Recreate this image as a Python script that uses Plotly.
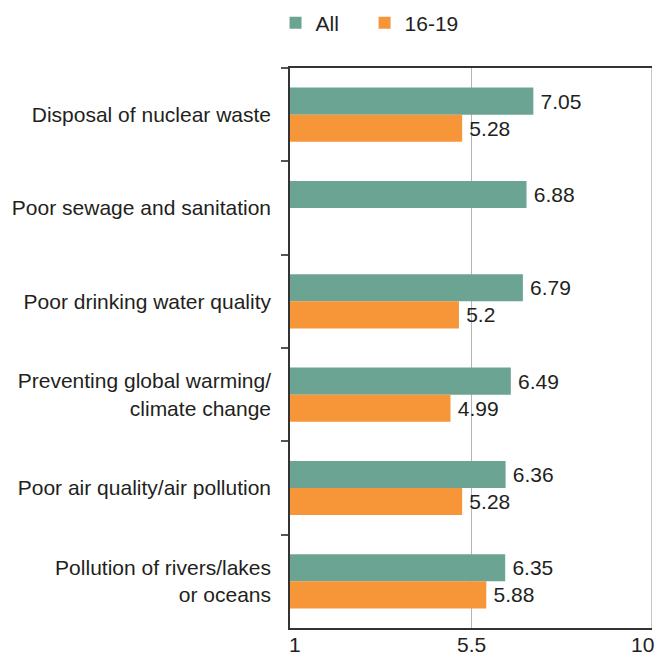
import plotly.graph_objects as go

categories = [
    "Disposal of nuclear waste",
    "Poor sewage and sanitation",
    "Poor drinking water quality",
    "Preventing global warming/<br>climate change",
    "Poor air quality/air pollution",
    "Pollution of rivers/lakes<br>or oceans",
]
all_values = [7.05, 6.88, 6.79, 6.49, 6.36, 6.35]
teen_values = [5.28, None, 5.2, 4.99, 5.28, 5.88]
x_ticks = [1, 5.5, 10]
x_tick_labels = ["1", "5.5", "10"]

TEAL = "#6ca494"
ORANGE = "#f79539"
TEXT = "#231f20"
GRID = "#b5b5b5"
FONT = "Liberation Sans, Arial, sans-serif"
FS = 21

def labels(vals):
    return ["" if v is None else "\u2009" + f"{v:g}" for v in vals]

fig = go.Figure()
fig.add_trace(go.Bar(
    name="All", y=categories, x=all_values, orientation="h",
    marker=dict(color=TEAL, line=dict(width=0)),
    text=labels(all_values), textposition="outside",
    textfont=dict(size=FS, color=TEXT, family=FONT), cliponaxis=False,
    legend="legend",
))
fig.add_trace(go.Bar(
    name="16-19", y=categories, x=teen_values, orientation="h",
    marker=dict(color=ORANGE, line=dict(width=0)),
    text=labels(teen_values), textposition="outside",
    textfont=dict(size=FS, color=TEXT, family=FONT), cliponaxis=False,
    legend="legend2",
))

legend_common = dict(orientation="h", xanchor="left", y=1.08, yanchor="middle",
                     font=dict(size=FS, color=TEXT, family=FONT), itemwidth=30,
                     bgcolor="rgba(0,0,0,0)")

# page body has an 8px margin, so the figure is made 8px smaller and margins shifted
fig.update_layout(
    width=656, height=646,
    margin=dict(l=282, r=12, t=60, b=26, autoexpand=False),
    paper_bgcolor="white", plot_bgcolor="white",
    barmode="group", bargap=0.42, bargroupgap=0,
    font=dict(family=FONT, size=FS, color=TEXT),
    showlegend=True,
    legend=dict(x=-0.04, **legend_common),
    legend2=dict(x=0.206, **legend_common),
    uniformtext=dict(mode=False),
)
# gridline at the upper end of the value axis (plotly drops grid lines on the range ends)
fig.add_shape(type="line", xref="x", yref="paper", x0=x_ticks[-1], x1=x_ticks[-1],
              y0=0, y1=1, line=dict(color=GRID, width=1.5), layer="below")

# value-axis labels: first one left-aligned, last one right-aligned, as in the original
anchors = ["left"] + ["center"] * (len(x_ticks) - 2) + ["right"]
shifts = [-3] + [0] * (len(x_ticks) - 2) + [4]
for v, t, a, s in zip(x_ticks, x_tick_labels, anchors, shifts):
    fig.add_annotation(x=v, xref="x", y=0, yref="paper", text=t, showarrow=False,
                       xanchor=a, yanchor="middle", yshift=-16, xshift=s,
                       font=dict(size=FS, color=TEXT, family=FONT))

fig.update_xaxes(
    range=[1, 10], tickvals=x_ticks, showticklabels=False,
    showgrid=True, gridcolor=GRID, gridwidth=1,
    showline=True, linecolor="#333333", linewidth=1.5, mirror=True,
    ticks="", zeroline=False,
    fixedrange=True,
)
fig.update_yaxes(
    autorange="reversed", type="category",
    showline=True, linecolor="#333333", linewidth=1.5,
    ticks="outside", tickson="boundaries", ticklen=7, tickcolor="#555555", tickwidth=1.5,
    showgrid=False,
    tickfont=dict(size=FS, color=TEXT, family=FONT),
    ticklabelstandoff=13,
    fixedrange=True,
)

fig.write_html("out.html")
